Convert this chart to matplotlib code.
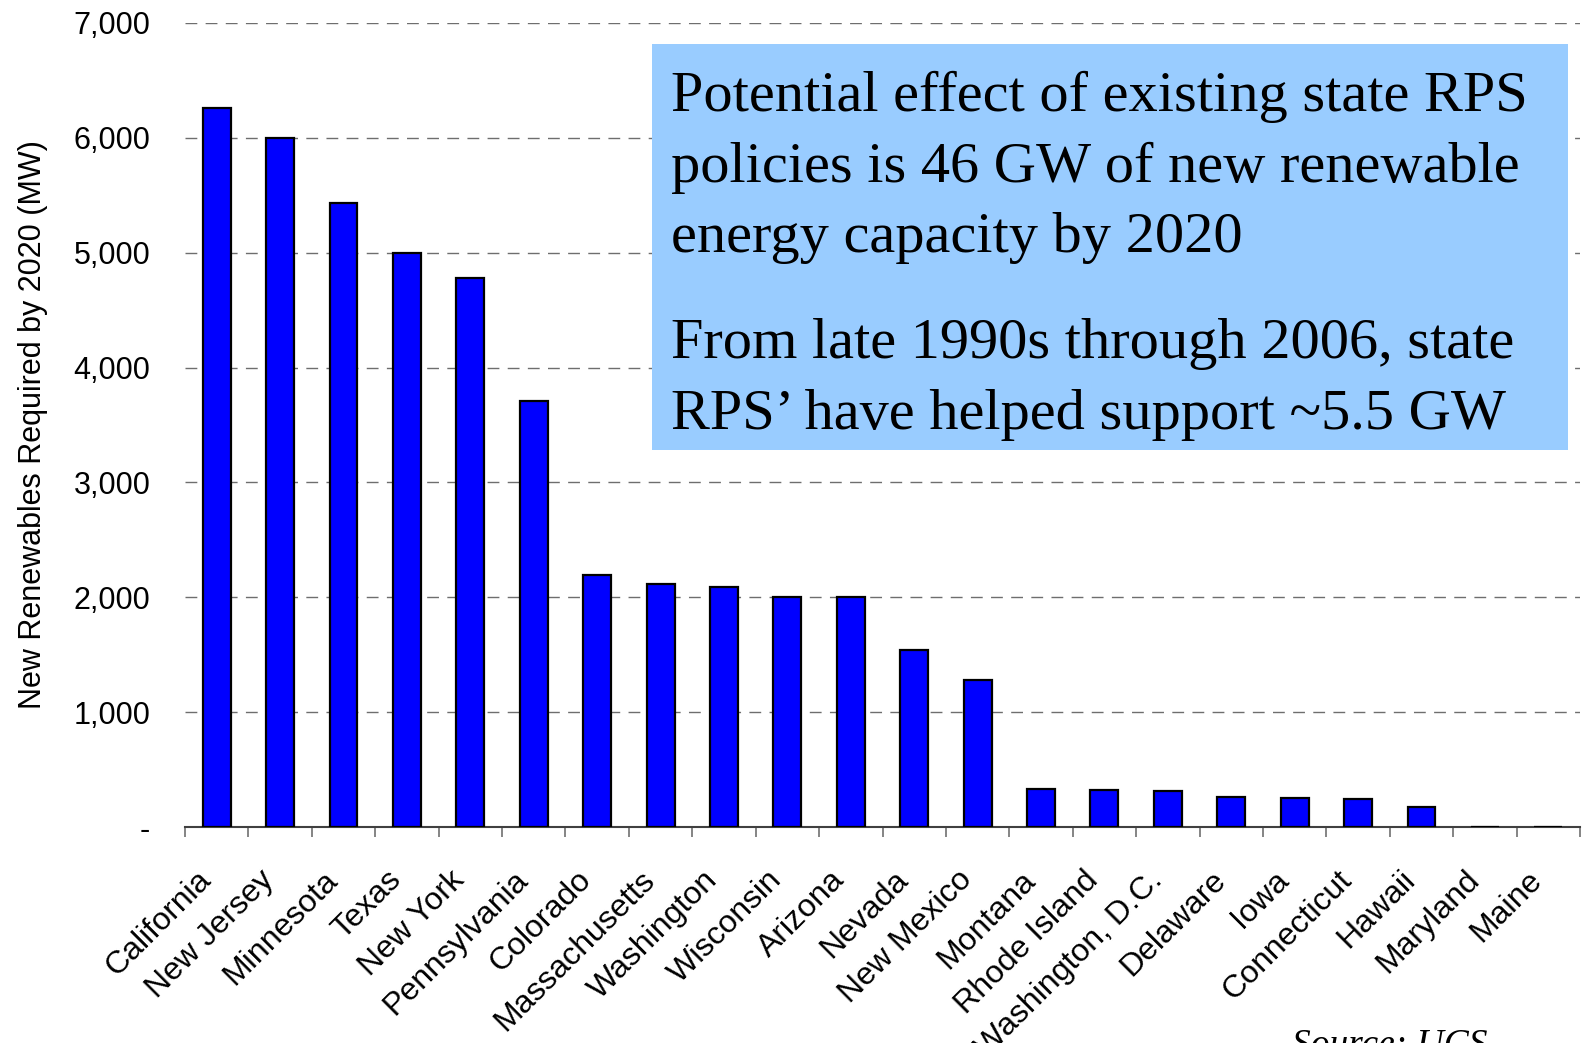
import matplotlib
matplotlib.use("Agg")
import matplotlib.pyplot as plt
import matplotlib.transforms as mtransforms
from matplotlib.patches import Rectangle
import numpy as np

# states and new renewables required by 2020 (MW)
states = ['California', 'New Jersey', 'Minnesota', 'Texas', 'New York',
          'Pennsylvania', 'Colorado', 'Massachusetts', 'Washington',
          'Wisconsin', 'Arizona', 'Nevada', 'New Mexico', 'Montana',
          'Rhode Island', 'Washington, D.C.', 'Delaware', 'Iowa',
          'Connecticut', 'Hawaii', 'Maryland', 'Maine']
mw = [6260, 6000, 5430, 5000, 4780, 3710, 2190, 2120, 2090, 2000, 2000,
      1540, 1280, 330, 325, 310, 265, 250, 240, 170, 0, 0]

yticks = [0, 1000, 2000, 3000, 4000, 5000, 6000, 7000]
ytick_labels = ['-', '1,000', '2,000', '3,000', '4,000', '5,000', '6,000', '7,000']

para1 = ["Potential effect of existing state RPS",
         "policies is 46 GW of new renewable",
         "energy capacity by 2020"]
para2 = ["From late 1990s through 2006, state",
         "RPS\u2019 have helped support ~5.5 GW"]

W, H = 1582, 1043
fig = plt.figure(figsize=(W / 100, H / 100), dpi=100)
ax = fig.add_axes([185 / W, 1 - 827 / H, 1395 / W, (827 - 23) / H])

x = np.arange(len(states))
ax.bar(x, mw, width=0.44, color='#0000FF', edgecolor='black', linewidth=1.6, zorder=3)

ax.set_xlim(-0.5, len(states) - 0.5)
ax.set_ylim(0, 7000)
ax.set_yticks(yticks)
ax.set_yticklabels(ytick_labels, fontsize=22, family='Liberation Sans')
ax.tick_params(axis='y', length=0, pad=25)
ax.yaxis.grid(True, color='#6e6e6e', linewidth=1.0, linestyle=(0, (8.5, 6)), zorder=0)

# ticks between categories, labels under centres
ax.set_xticks(np.arange(len(states) + 1) - 0.5)
ax.set_xticklabels([])
ax.tick_params(axis='x', length=7, width=1.2, color='#707070')

for s in ['left', 'right', 'top']:
    ax.spines[s].set_visible(False)
ax.spines['bottom'].set_color('#404040')
ax.spines['bottom'].set_linewidth(1.5)

offset = mtransforms.ScaledTranslation(-21 / 100, -38 / 100, fig.dpi_scale_trans)
for i, name in enumerate(states):
    ax.text(i, 0, name, transform=ax.get_xaxis_transform() + offset,
            rotation=45, ha='right', va='top', rotation_mode='anchor',
            fontsize=23, family='Liberation Sans')

ax.set_ylabel('New Renewables Required by 2020 (MW)', fontsize=22,
              family='Liberation Sans', labelpad=18)

# text box
fig.patches.append(Rectangle((652 / W, 1 - 450 / H), (1568 - 652) / W, (450 - 44) / H,
                             transform=fig.transFigure, facecolor='#99CCFF',
                             edgecolor='none', zorder=5))
step = 70.7
for k, line in enumerate(para1):
    fig.text(671 / W, 1 - (111 + k * step) / H, line, fontsize=42,
             family='Liberation Serif', va='baseline', ha='left', zorder=6)
for k, line in enumerate(para2):
    fig.text(671 / W, 1 - (358 + k * step) / H, line, fontsize=42,
             family='Liberation Serif', va='baseline', ha='left', zorder=6)

fig.text(1292 / W, 1 - 1055 / H, 'Source: UCS', fontsize=27, family='Liberation Serif',
         style='italic', ha='left', va='baseline')

fig.savefig('out.png', dpi=100)
